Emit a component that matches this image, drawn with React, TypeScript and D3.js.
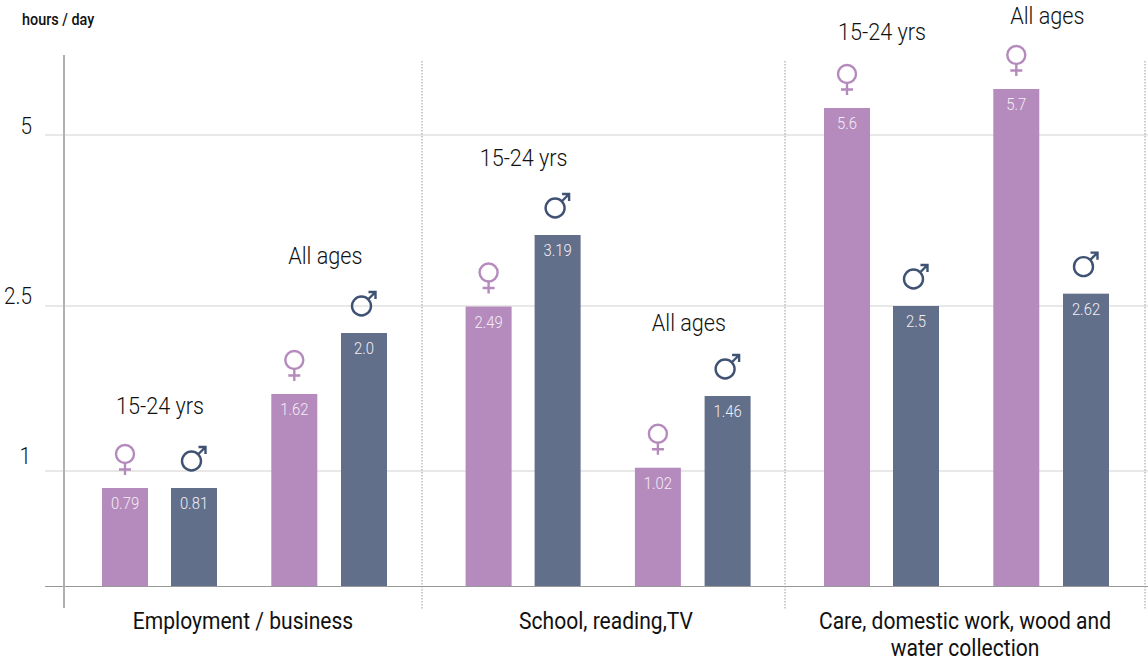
import React from "react";
import * as d3 from "d3";

// Time use by activity, sex and age group (hours per day)
const panels = ["Employment / business", "School, reading,TV", "Care, domestic work, wood and", "water collection"];
const ageGroups = ["15-24 yrs", "All ages"];
const femaleValues = [[0.79, 1.62], [2.49, 1.02], [5.6, 5.7]];
const maleValues = [[0.81, 2.0], [3.19, 1.46], [2.5, 2.62]];
const femaleLabels = [["0.79", "1.62"], ["2.49", "1.02"], ["5.6", "5.7"]];
const maleLabels = [["0.81", "2.0"], ["3.19", "1.46"], ["2.5", "2.62"]];
const tickValues = [1, 2.5, 5];
const tickLabels = ["1", "2.5", "5"];

// The axis is stretched unevenly, so the scale is calibrated in pieces
const axisKnots = [0, 0.79, 0.81, 1, 1.46, 1.62, 2, 2.5, 3.19, 5, 5.6, 5.7];
const axisPixels = [587, 488, 488, 471, 396, 394, 333, 306, 235, 135, 108, 89];

const purple = "#b58abd";
const slate = "#626f8a";
const maleInk = "#3f5274";
const font = "'Roboto', 'Liberation Sans', sans-serif";
const squeeze = 0.9;

const y = d3.scaleLinear().domain(axisKnots).range(axisPixels);
const panelX = d3.scaleOrdinal<number, number>().domain([0, 1, 2]).range([102, 465.6, 824]);
const slotX = d3.scaleOrdinal<string, number>().domain(["f0", "m0", "f1", "m1"]).range([0, 69, 169.3, 239]);
const barWidth = 46;

const panelCentres = [243, 606, 965];
const separators = [422, 785, 1145];
const ageLabelRise = [[82, 77], [77, 73], [76, 73]];
const ageLabelShift = [58, 54];
const tickNudge = [-15, -10, -9];

// Text narrowed horizontally around its anchor point
function Narrow({ x, y: ty, size, weight = 400, fill = "#111", anchor = "middle", children }: any) {
  return (
    <text
      transform={`translate(${x},${ty}) scale(${squeeze},1)`}
      textAnchor={anchor}
      fontFamily={font}
      fontSize={size}
      fontWeight={weight}
      fill={fill}
    >
      {children}
    </text>
  );
}

function Female({ cx, cy }: { cx: number; cy: number }) {
  return (
    <g fill="none" stroke={purple} strokeWidth={2.4}>
      <circle cx={cx} cy={cy} r={9} />
      <path d={`M${cx},${cy + 9}V${cy + 21}M${cx - 6},${cy + 15.5}H${cx + 6}`} />
    </g>
  );
}

function Male({ cx, cy }: { cx: number; cy: number }) {
  return (
    <g fill="none" stroke={maleInk} strokeWidth={2.4}>
      <circle cx={cx} cy={cy} r={9.5} />
      <path d={`M${cx + 7},${cy - 7}L${cx + 14},${cy - 14}M${cx + 7},${cy - 14}H${cx + 14}V${cy - 7}`} />
    </g>
  );
}

function Bar({ panel, age, sex }: { panel: number; age: number; sex: "f" | "m" }) {
  const value = (sex === "f" ? femaleValues : maleValues)[panel][age];
  const label = (sex === "f" ? femaleLabels : maleLabels)[panel][age];
  const x = panelX(panel) + slotX(`${sex}${age}`);
  const top = y(value);
  const cx = x + barWidth / 2;
  return (
    <g>
      <rect x={x} y={top} width={barWidth} height={y(0) - top} fill={sex === "f" ? purple : slate} />
      <Narrow x={cx} y={top + 21} size={16.5} weight={300} fill="#f3eef5">{label}</Narrow>
      {sex === "f" ? <Female cx={cx} cy={top - 34} /> : <Male cx={cx - 2.5} cy={top - 27} />}
    </g>
  );
}

export default function App() {
  return (
    <svg width={1148} height={661} style={{ position: "absolute", left: 0, top: 0 }}>
      <rect width={1148} height={661} fill="#fff" />
      <Narrow x={22} y={25} size={16} weight={500} anchor="start">hours / day</Narrow>

      {tickValues.map((t, i) => (
        <g key={t}>
          <line x1={45} x2={1148} y1={y(t)} y2={y(t)} stroke="#e0e0e0" strokeWidth={1.4} />
          <Narrow x={i === 0 ? 31 : 32} y={y(t) + tickNudge[i] + 8} size={23} weight={300} anchor="end">
            {tickLabels[i]}
          </Narrow>
        </g>
      ))}

      {separators.map((x) => (
        <line key={x} x1={x} x2={x} y1={61} y2={610} stroke="#9a9a9a" strokeWidth={1} strokeDasharray="1.5 1.5" />
      ))}

      {panels.slice(0, 3).map((_, p) =>
        ageGroups.map((_, a) => (
          <g key={`${p}-${a}`}>
            <Bar panel={p} age={a} sex="f" />
            <Bar panel={p} age={a} sex="m" />
            <Narrow
              x={panelX(p) + slotX(`f${a}`) + ageLabelShift[a]}
              y={Math.min(y(femaleValues[p][a]), y(maleValues[p][a])) - ageLabelRise[p][a] + 8}
              size={24}
              weight={300}
            >
              {ageGroups[a]}
            </Narrow>
          </g>
        ))
      )}

      <line x1={45} x2={1148} y1={y(0) - 0.5} y2={y(0) - 0.5} stroke="#999" strokeWidth={1.2} />
      <line x1={64} x2={64} y1={55} y2={608} stroke="#b0b0b0" strokeWidth={2} />

      <Narrow x={panelCentres[0]} y={629} size={23.4}>{panels[0]}</Narrow>
      <Narrow x={panelCentres[1]} y={629} size={23.4}>{panels[1]}</Narrow>
      <Narrow x={panelCentres[2]} y={629} size={23.4}>{panels[2]}</Narrow>
      <Narrow x={panelCentres[2]} y={655.5} size={23.4}>{panels[3]}</Narrow>
    </svg>
  );
}
